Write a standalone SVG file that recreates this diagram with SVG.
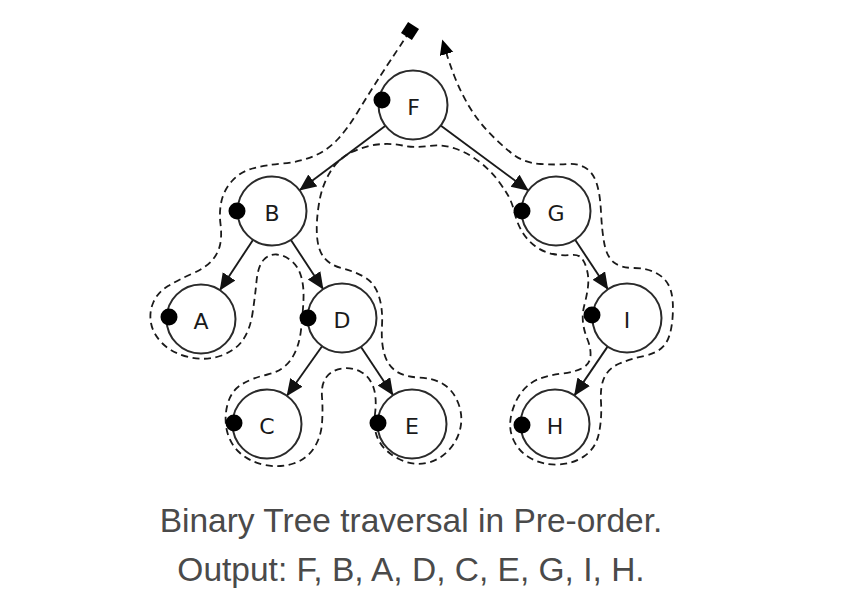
<svg xmlns="http://www.w3.org/2000/svg" width="848" height="605" viewBox="0 0 848 605">
<style>
.node circle.n{fill:#fff;stroke:#2a2a2a;stroke-width:2}
.node circle.dot{fill:#000}
.node text{font-family:"DejaVu Sans",sans-serif;font-size:22px;fill:#1a1a1a;text-anchor:middle}
.edge{stroke:#1a1a1a;stroke-width:1.9;fill:none;marker-end:url(#ah)}
.trav{stroke:#1a1a1a;stroke-width:1.8;fill:none;stroke-dasharray:7 4.5}
.cap{font-family:"Liberation Sans",Arial,sans-serif;font-size:33.5px;fill:#4a4a4a;text-anchor:middle}
</style>
<defs>
<marker id="ah" markerUnits="userSpaceOnUse" markerWidth="18" markerHeight="16" refX="17" refY="7.5" orient="auto">
<path d="M0,0 L17,7.5 L0,15 z" fill="#111"/>
</marker>
<marker id="th" markerUnits="userSpaceOnUse" markerWidth="16" markerHeight="16" refX="2" refY="7" orient="auto">
<path d="M0,0 L15,7 L0,14 z" fill="#000"/>
</marker>
</defs>
<rect width="848" height="605" fill="#fff"/>
<g id="traversal">
<path class="trav" marker-end="url(#th)" d="M410,31 Q388,64 378,79.5 Q368,95 358,111.5 Q348,128 338,139 Q328,150 314,156 Q300,162 282.5,163.5 Q265,165 252.5,168.5 Q240,172 232,181 Q224,190 221.5,201 Q219,212 220.5,224 Q222,236 220,245 Q218,254 211.5,261 Q205,268 191.5,274 Q178,280 168,286 Q158,292 153.5,302 Q149,312 151,323 Q153,334 162.5,343.5 Q172,353 188.5,357 Q205,361 220,356 Q235,351 242.5,340.5 Q250,330 252.5,313.5 Q255,297 256.5,281.5 Q258,266 263.5,260 Q269,254 276.5,254.5 Q284,255 291,260.5 Q298,266 301,276 Q304,286 303.5,299 Q303,312 301,330 Q299,348 291,359.5 Q283,371 267.5,374.5 Q252,378 241.5,384.5 Q231,391 227.5,404.5 Q224,418 227,431 Q230,444 240,453 Q250,462 265,465 Q280,468 293.5,463.5 Q307,459 314,448 Q321,437 322,423.5 Q323,410 322,397 Q321,384 326.5,377 Q332,370 342,368.5 Q352,367 361,372 Q370,377 373.5,387.5 Q377,398 375,414 Q373,430 379,441 Q385,452 399,459 Q413,466 426.5,463 Q440,460 449,450 Q458,440 460.5,427.5 Q463,415 458,402.5 Q453,390 443,384 Q433,378 419,377.5 Q405,377 396.5,371.5 Q388,366 384.5,354.5 Q381,343 382,325.5 Q383,308 378.5,295 Q374,282 363.5,276.5 Q353,271 341.5,268 Q330,265 324,257.5 Q318,250 317,236 Q316,222 319,203.5 Q322,185 330.5,171.5 Q339,158 352,152 Q365,146 377.5,144.5 Q390,143 402.5,145.5 Q415,148 428.5,146 Q442,144 455,148.5 Q468,153 479,161.5 Q490,170 496.5,178.5 Q503,187 507.5,194.5 Q512,202 514.5,212.5 Q517,223 522,231.5 Q527,240 535,246 Q543,252 553,254 Q563,256 570.5,255 Q578,254 581.5,258 Q585,262 587,270 Q589,278 588,286.5 Q587,295 584.5,304.5 Q582,314 583,322.5 Q584,331 587.5,339.5 Q591,348 590.5,356 Q590,364 582.5,368 Q575,372 562.5,373.5 Q550,375 540,378.5 Q530,382 522.5,391 Q515,400 511.5,414 Q508,428 513.5,440 Q519,452 531,458.5 Q543,465 558,464.5 Q573,464 584.5,456 Q596,448 599,433 Q602,418 601,402 Q600,386 604.5,377 Q609,368 619.5,363.5 Q630,359 644,356 Q658,353 664.5,345 Q671,337 672.5,318.5 Q674,300 670.5,289.5 Q667,279 657,273.5 Q647,268 634,268 Q621,268 614,262.5 Q607,257 604.5,244.5 Q602,232 601,212 Q600,192 596,181.5 Q592,171 584,167 Q576,163 566.5,164 Q557,165 540.5,164 Q524,163 512,153.5 Q500,144 489,132.5 Q478,121 469.5,107 Q461,93 454.5,76.5 Q449,62 446,52"/>
<rect x="-6.5" y="-6.5" width="13" height="13" fill="#000" transform="translate(410,31) rotate(33)"/>
</g>
<g id="connectors">
<line class="edge" x1="385.8" y1="125.4" x2="299.2" y2="190.6"/>
<line class="edge" x1="440.3" y1="125.2" x2="528.7" y2="190.8"/>
<line class="edge" x1="253.3" y1="239.4" x2="219.7" y2="290.6"/>
<line class="edge" x1="290.6" y1="239.5" x2="323.4" y2="289.5"/>
<line class="edge" x1="322.4" y1="345.7" x2="286.6" y2="396.3"/>
<line class="edge" x1="360.7" y1="346.4" x2="393.3" y2="395.6"/>
<line class="edge" x1="574.8" y1="239.3" x2="608.2" y2="289.7"/>
<line class="edge" x1="607.9" y1="346.1" x2="574.1" y2="395.9"/>
</g>
<g id="node-F" class="node"><circle class="n" cx="413" cy="105" r="34.5"/><circle class="dot" cx="382" cy="100" r="8.5"/><text x="413.5" y="115">F</text></g>
<g id="node-B" class="node"><circle class="n" cx="272" cy="211" r="34.5"/><circle class="dot" cx="237" cy="211" r="8.5"/><text x="272" y="221">B</text></g>
<g id="node-A" class="node"><circle class="n" cx="201" cy="319" r="34.5"/><circle class="dot" cx="169" cy="317" r="8.5"/><text x="201" y="329">A</text></g>
<g id="node-D" class="node"><circle class="n" cx="342" cy="318" r="34.5"/><circle class="dot" cx="308" cy="318" r="8.5"/><text x="342" y="328">D</text></g>
<g id="node-C" class="node"><circle class="n" cx="267" cy="424" r="34.5"/><circle class="dot" cx="234" cy="423" r="8.5"/><text x="267" y="434">C</text></g>
<g id="node-E" class="node"><circle class="n" cx="412" cy="424" r="34.5"/><circle class="dot" cx="378" cy="423" r="8.5"/><text x="412" y="434">E</text></g>
<g id="node-G" class="node"><circle class="n" cx="556" cy="211" r="34.5"/><circle class="dot" cx="522" cy="211" r="8.5"/><text x="556" y="221">G</text></g>
<g id="node-I" class="node"><circle class="n" cx="627" cy="318" r="34.5"/><circle class="dot" cx="592" cy="315" r="8.5"/><text x="627" y="328">I</text></g>
<g id="node-H" class="node"><circle class="n" cx="555" cy="424" r="34.5"/><circle class="dot" cx="522" cy="425" r="8.5"/><text x="555" y="434">H</text></g>
<g id="caption">
<text class="cap" x="411" y="532">Binary Tree traversal in Pre-order.</text>
<text class="cap" x="411" y="581">Output: F, B, A, D, C, E, G, I, H.</text>
</g>
</svg>
